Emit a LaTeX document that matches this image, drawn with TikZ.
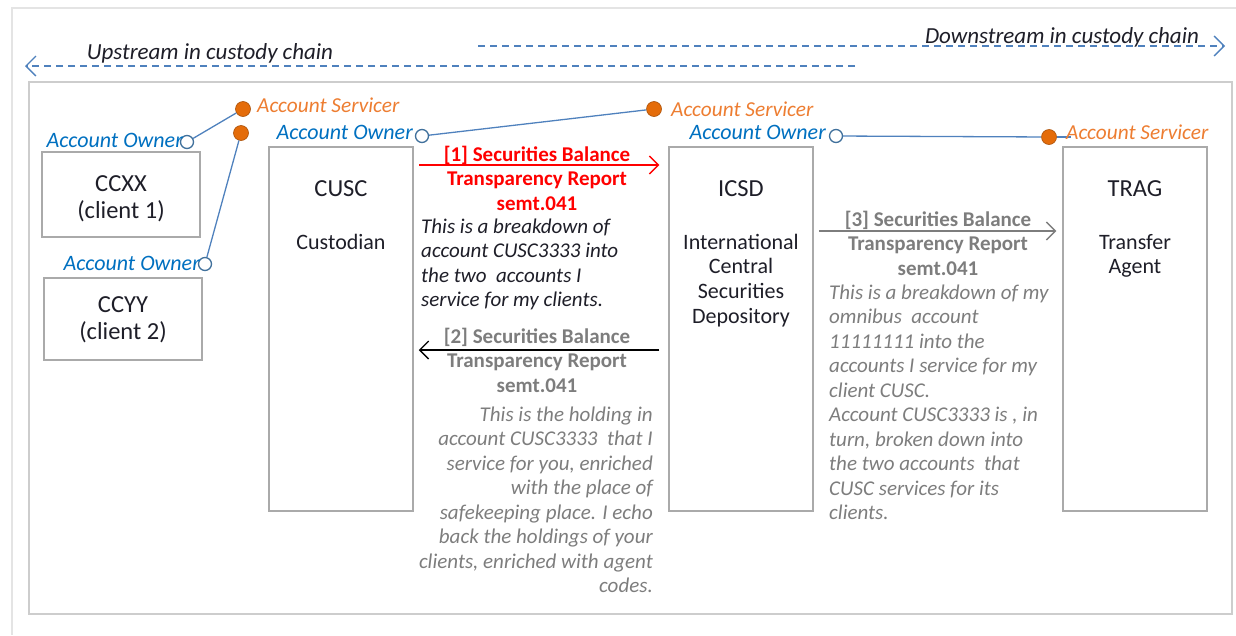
\documentclass[tikz,border=0pt]{standalone}
\usepackage{fontspec}
\setmainfont{Carlito}
\usetikzlibrary{arrows.meta}
\definecolor{lineblue}{RGB}{79,129,189}
\definecolor{ringblue}{RGB}{65,113,156}
\definecolor{ownerblue}{RGB}{0,112,192}
\definecolor{servorange}{RGB}{228,108,10}
\definecolor{servtext}{RGB}{237,125,49}
\definecolor{boxgray}{RGB}{170,170,170}
\definecolor{txtgray}{RGB}{125,125,125}
\definecolor{framegray}{RGB}{205,205,205}
\definecolor{outergray}{RGB}{228,228,228}
\definecolor{darktxt}{RGB}{30,30,40}
\begin{document}
\begin{tikzpicture}[x=1pt,y=-1pt,
  box/.style={draw=boxgray,line width=1.5pt,inner sep=0pt},
  nametxt/.style={font=\fontsize{24.5}{27}\selectfont,text=darktxt,inner sep=0pt,anchor=base,align=center},
  subtxt/.style={font=\fontsize{22}{24.8}\selectfont,text=darktxt,inner sep=0pt,anchor=base,align=center},
  owner/.style={circle,draw=ringblue,fill=white,line width=1.3pt,minimum size=13pt,inner sep=0pt},
  servicer/.style={circle,draw=servorange!75!black,fill=servorange,line width=0.6pt,minimum size=15pt,inner sep=0pt},
  ownerlbl/.style={font=\fontsize{22}{24}\selectfont\itshape,text=ownerblue,inner sep=0pt,anchor=base east},
  servlbl/.style={font=\fontsize{21.3}{24}\selectfont\itshape,text=servtext,inner sep=0pt,anchor=base west},
  link/.style={draw=lineblue,line width=1.3pt},
  msg/.style={font=\fontsize{21}{24.5}\selectfont\bfseries,inner sep=0pt,anchor=base,align=center},
  desc/.style={font=\fontsize{21}{24.5}\selectfont\itshape,inner sep=0pt},
  flow/.style={line width=1.3pt,-{Straight Barb[length=9pt,width=18pt,line width=1.3pt]}},
  chain/.style={draw=lineblue,line width=1.3pt,dash pattern=on 7pt off 5pt,-{Straight Barb[length=10pt,width=20pt,line width=1.3pt]}},
  chaintxt/.style={font=\fontsize{23}{26}\selectfont\itshape,text=darktxt,inner sep=0pt,anchor=base}
]
\useasboundingbox (0,0) rectangle (1236,635);
% frames
\draw[outergray,line width=2pt] (12,635) -- (12,8) -- (1236,8);
\draw[framegray,line width=2pt] (29,82) rectangle (1232,614);

% custody chain arrows
\coordinate (upS) at (855,66);
\coordinate (upE) at (25,66);
\coordinate (dnS) at (478,46);
\coordinate (dnE) at (1225,46);
\draw[chain] (upS) -- (upE);
\draw[chain] (dnS) -- (dnE);
\node[chaintxt] (upT) at (210,59) {Upstream in custody chain};
\node[chaintxt] (dnT) at (1062,43) {Downstream in custody chain};

% boxes
\node[box,minimum width=158pt,minimum height=85pt] (ccxx) at (121,194.5) {};
\node[box,minimum width=158pt,minimum height=82pt] (ccyy) at (123,319) {};
\node[box,minimum width=144pt,minimum height=364pt] (cusc) at (341,329) {};
\node[box,minimum width=144pt,minimum height=364pt] (icsd) at (741,329) {};
\node[box,minimum width=144pt,minimum height=364pt] (trag) at (1135,329) {};

\node[nametxt] (ccxxT) at (121,218) {CCXX\\(client 1)};
\node[nametxt] (ccyyT) at (123,339) {CCYY\\(client 2)};
\node[nametxt] (cuscT) at (341,196) {CUSC};
\node[subtxt] (cuscS) at (341,249) {Custodian};
\node[nametxt] (icsdT) at (741,196) {ICSD};
\node[subtxt] (icsdS) at (741,323.4) {International\\Central\\Securities\\Depository};
\node[nametxt] (tragT) at (1135,196) {TRAG};
\node[subtxt] (tragS) at (1135,273.8) {Transfer\\Agent};

% account owner / servicer markers
\node[owner] (o1) at (187,142) {};
\node[servicer] (s1) at (243,109) {};
\node[servicer] (s2) at (241,133) {};
\node[owner] (o2) at (205,264) {};
\node[owner] (o3) at (422,136) {};
\node[servicer] (s3) at (654,109) {};
\node[owner] (o4) at (836,136) {};
\node[servicer] (s4) at (1049,137) {};

\draw[link] (o1) -- (s1);
\draw[link] (s2) -- (o2);
\draw[link] (o3) -- (s3);
\draw[link] (o4) -- (s4);
\draw[link] (s4.east) -- ++(14,0);

\node[ownerlbl] (o1L) at (183,147) {Account Owner};
\node[ownerlbl] (o2L) at (200,270) {Account Owner};
\node[ownerlbl] (o3L) at (413,139) {Account Owner};
\node[ownerlbl] (o4L) at (826,139) {Account Owner};
\node[servlbl] (s1L) at (257,112) {Account Servicer};
\node[servlbl] (s3L) at (671,116) {Account Servicer};
\node[servlbl] (s4L) at (1066,139) {Account Servicer};

% messages
\coordinate (y1) at (0,165);
\coordinate (y2) at (0,350);
\coordinate (y3) at (0,231);
\draw[flow,red,shorten <=5pt,shorten >=9pt] (cusc.east |- y1) -- (icsd.west |- y1);
\draw[flow,black,shorten <=9pt,shorten >=5pt] (icsd.west |- y2) -- (cusc.east |- y2);
\draw[flow,txtgray,shorten <=5pt,shorten >=6pt] (icsd.east |- y3) -- (trag.west |- y3);

\node[msg,text=red] (m1) at (537,210) {[1] Securities Balance\\Transparency Report\\semt.041};
\node[desc,text=darktxt,anchor=base west,align=left] (d1) at (421,306.5) {This is a breakdown of\\account CUSC3333 into\\the two\ \ accounts I\\service for my clients.};

\node[msg,text=txtgray] (m2) at (537,392) {[2] Securities Balance\\Transparency Report\\semt.041};
\node[desc,text=txtgray,anchor=base east,align=right] (d2) at (653,592.5) {This is the holding in\\account CUSC3333\ \ that I\\service for you, enriched\\with the place of\\safekeeping place. I echo\\back the holdings of your\\clients, enriched with agent\\codes.};

\node[msg,text=txtgray] (m3) at (938,275) {[3] Securities Balance\\Transparency Report\\semt.041};
\node[desc,text=txtgray,anchor=base west,align=left] (d3) at (829,519.5) {This is a breakdown of my\\omnibus\ \ account\\11111111 into the\\accounts I service for my\\client CUSC.\\Account CUSC3333 is , in\\turn, broken down into\\the two accounts\ \ that\\CUSC services for its\\clients.};
\end{tikzpicture}
\end{document}
